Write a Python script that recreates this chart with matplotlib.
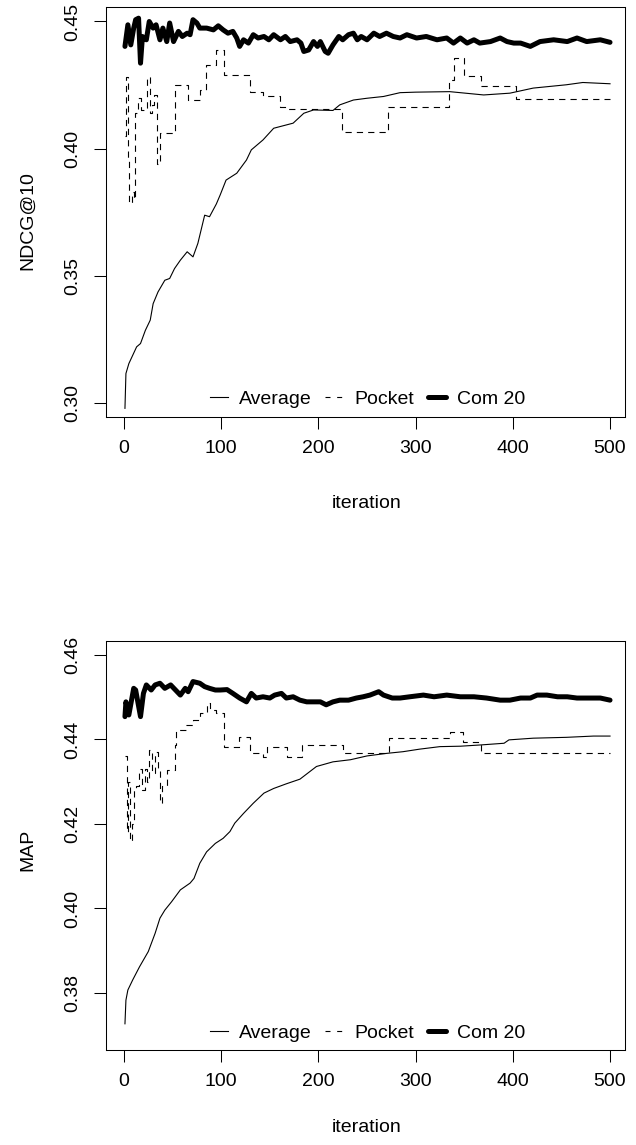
import matplotlib
matplotlib.use("Agg")
import matplotlib.pyplot as plt
from matplotlib.lines import Line2D

plt.rcParams['font.family'] = ['Liberation Sans', 'DejaVu Sans']

# ---------------- data ----------------
# Top panel: NDCG@10
ndcg_avg_it = [1, 2, 5, 13, 17, 22, 27, 30, 35, 42, 47, 52, 58, 65, 71, 76, 83, 88, 95, 99,
               105, 116, 126, 131, 143, 154, 167, 174, 185, 195, 215, 222, 236, 250, 267,
               284, 300, 335, 370, 397, 421, 455, 472, 500]
ndcg_avg = [0.2978, 0.3115, 0.3154, 0.3220, 0.3233, 0.3285, 0.3325, 0.3390, 0.3436, 0.3482,
            0.3489, 0.3528, 0.3561, 0.3594, 0.3574, 0.3627, 0.3738, 0.3732, 0.3782, 0.3818,
            0.3876, 0.3903, 0.3955, 0.3995, 0.4034, 0.4080, 0.4093, 0.4100, 0.4139, 0.4152,
            0.4150, 0.4172, 0.4191, 0.4198, 0.4205, 0.4220, 0.4222, 0.4224, 0.4211, 0.4218,
            0.4238, 0.4251, 0.4260, 0.4255]

ndcg_pocket_it = [1, 2, 4, 5, 8, 10, 11, 14, 18, 22, 24, 27, 29, 31, 34, 37, 52, 66, 78, 84,
                  95, 103, 130, 143, 160, 168, 224, 272, 334, 340, 350, 367, 403, 500]
ndcg_pocket = [0.405, 0.428, 0.395, 0.3785, 0.383, 0.380, 0.414, 0.420, 0.415, 0.416, 0.428,
               0.414, 0.417, 0.421, 0.394, 0.406, 0.4251, 0.4191, 0.4231, 0.4329, 0.4386,
               0.4290, 0.4224, 0.4207, 0.4165, 0.4155, 0.4067, 0.4165, 0.4270, 0.4356, 0.4286,
               0.4248, 0.4194, 0.4194]

ndcg_com_it = [1, 4, 7, 10, 12, 15, 17, 19, 23, 26, 30, 33, 37, 40, 44, 47, 51, 56, 60, 65,
               68, 71, 75, 78, 85, 92, 97, 102, 107, 112, 116, 119, 123, 128, 133, 138, 144,
               149, 154, 161, 166, 171, 178, 182, 185, 190, 195, 199, 202, 207, 210, 215, 221,
               225, 231, 236, 240, 244, 250, 257, 263, 270, 277, 284, 291, 301, 311, 322, 332,
               339, 346, 353, 360, 366, 377, 387, 394, 401, 408, 418, 428, 442, 456, 466, 476,
               490, 500]
ndcg_com = [0.4402, 0.4487, 0.4408, 0.4474, 0.4507, 0.4513, 0.4336, 0.4441, 0.4428, 0.4500,
            0.4474, 0.4487, 0.4428, 0.4474, 0.4421, 0.4494, 0.4421, 0.4461, 0.4441, 0.4454,
            0.4448, 0.4507, 0.4494, 0.4474, 0.4474, 0.4467, 0.4483, 0.4467, 0.4454, 0.4461,
            0.4435, 0.4402, 0.4428, 0.4415, 0.4448, 0.4435, 0.4441, 0.4428, 0.4448, 0.4428,
            0.4441, 0.4421, 0.4428, 0.4415, 0.4382, 0.4388, 0.4421, 0.4402, 0.4421, 0.4382,
            0.4375, 0.4408, 0.4441, 0.4428, 0.4448, 0.4454, 0.4428, 0.4441, 0.4428, 0.4454,
            0.4441, 0.4454, 0.4441, 0.4435, 0.4448, 0.4435, 0.4441, 0.4428, 0.4435, 0.4415,
            0.4435, 0.4415, 0.4428, 0.4415, 0.4421, 0.4435, 0.4421, 0.4415, 0.4415, 0.4402,
            0.4421, 0.4428, 0.4421, 0.4435, 0.4421, 0.4428, 0.4418]

# Bottom panel: MAP
map_avg_it = [1, 2, 4, 9, 16, 25, 32, 37, 42, 49, 58, 68, 72, 78, 85, 94, 102, 109, 114, 123,
              133, 144, 154, 167, 181, 198, 215, 233, 250, 270, 287, 304, 325, 346, 367, 391,
              396, 421, 455, 483, 500]
map_avg = [0.3727, 0.3783, 0.3807, 0.3831, 0.3862, 0.3898, 0.3941, 0.3977, 0.3996, 0.4016,
           0.4044, 0.4060, 0.4071, 0.4107, 0.4134, 0.4154, 0.4166, 0.4182, 0.4202, 0.4225,
           0.4249, 0.4273, 0.4284, 0.4295, 0.4306, 0.4336, 0.4347, 0.4352, 0.4361, 0.4367,
           0.4371, 0.4377, 0.4383, 0.4384, 0.4387, 0.4391, 0.4399, 0.4403, 0.4405, 0.4408,
           0.4408]

map_pocket_it = [1, 3, 4, 6, 8, 10, 12, 15, 19, 22, 24, 26, 29, 32, 35, 37, 39, 44, 52, 54,
                 64, 71, 78, 85, 88, 95, 103, 118, 130, 143, 147, 168, 183, 225, 273, 335,
                 349, 367, 500]
map_pocket = [0.436, 0.418, 0.430, 0.416, 0.420, 0.428, 0.429, 0.433, 0.428, 0.433, 0.430,
              0.4375, 0.432, 0.437, 0.433, 0.4249, 0.429, 0.4328, 0.4387, 0.4422, 0.4434,
              0.4446, 0.4463, 0.4487, 0.4470, 0.4462, 0.4383, 0.4405, 0.4369, 0.4359, 0.4382,
              0.4359, 0.4387, 0.4367, 0.4403, 0.4418, 0.4393, 0.4369, 0.4369]

map_com_it = [1, 2, 5, 10, 12, 17, 20, 23, 28, 32, 37, 42, 48, 53, 58, 63, 66, 71, 78, 83,
              88, 94, 99, 106, 112, 119, 126, 131, 136, 143, 150, 155, 162, 167, 174, 181,
              188, 195, 202, 208, 215, 222, 231, 239, 246, 253, 262, 267, 276, 284, 294, 308,
              319, 332, 346, 360, 373, 387, 397, 408, 418, 425, 435, 446, 456, 466, 476, 490,
              500]
map_com = [0.4454, 0.4489, 0.4458, 0.4521, 0.4517, 0.4454, 0.4509, 0.4529, 0.4517, 0.4529,
           0.4533, 0.4521, 0.4529, 0.4517, 0.4505, 0.4521, 0.4513, 0.4537, 0.4533, 0.4525,
           0.4521, 0.4517, 0.4517, 0.4518, 0.4509, 0.4498, 0.4489, 0.4509, 0.4498, 0.4501,
           0.4498, 0.4505, 0.4509, 0.4498, 0.4501, 0.4493, 0.4489, 0.4489, 0.4489, 0.4482,
           0.4489, 0.4493, 0.4493, 0.4498, 0.4501, 0.4505, 0.4513, 0.4505, 0.4498, 0.4498,
           0.4501, 0.4505, 0.4501, 0.4505, 0.4501, 0.4501, 0.4498, 0.4493, 0.4493, 0.4498,
           0.4498, 0.4505, 0.4505, 0.4501, 0.4501, 0.4498, 0.4498, 0.4498, 0.4493]

x_ticks = [0, 100, 200, 300, 400, 500]
ndcg_yticks = [0.30, 0.35, 0.40, 0.45]
map_yticks = [0.38, 0.40, 0.42, 0.44, 0.46]
legend_labels = ["Average", "Pocket", "Com 20"]

# ---------------- figure ----------------
W, H = 636, 1145
fig = plt.figure(figsize=(W / 100, H / 100), dpi=100)

FS = 14
THIN = 0.8
THICK = 3.6
DASH = (5.6, 4.6)


def add_ax(top_px, bottom_px):
    left_px, right_px = 106, 625
    return fig.add_axes([left_px / W, 1 - bottom_px / H,
                         (right_px - left_px) / W, (bottom_px - top_px) / H])


def style(ax, yticks, ylim):
    ax.set_xlim(-18.5, 515.4)
    ax.set_ylim(*ylim)
    ax.set_xticks(x_ticks)
    ax.set_xticklabels([str(t) for t in x_ticks])
    ax.set_yticks(yticks)
    ax.set_yticklabels([f"{t:.2f}" for t in yticks], rotation=90, va='center', ha='right')
    ax.tick_params(axis='both', direction='out', length=8.5, width=0.75,
                   labelsize=FS, colors='black')
    ax.tick_params(axis='x', pad=8)
    ax.tick_params(axis='y', pad=9)
    for s in ax.spines.values():
        s.set_linewidth(0.75)
        s.set_color('black')


def draw(ax, avg_it, avg, pk_it, pk, com_it, com, ycenter_frac):
    ax.plot(avg_it, avg, color='black', lw=THIN)
    ax.plot(pk_it, pk, color='black', lw=THIN, dashes=DASH, drawstyle='steps-post')
    ax.plot(com_it, com, color='black', lw=THICK, solid_capstyle='round',
            solid_joinstyle='round')
    handles = [Line2D([], [], color='black', lw=THIN),
               Line2D([], [], color='black', lw=THIN, dashes=(4.5, 6.0)),
               Line2D([], [], color='black', lw=THICK, solid_capstyle='round')]
    ax.legend(handles, legend_labels, ncol=3, loc='center',
              bbox_to_anchor=(0.504, ycenter_frac), frameon=False, fontsize=FS,
              handlelength=0.95, handletextpad=0.55, columnspacing=0.7,
              borderpad=0, borderaxespad=0)


# top panel
ax1 = add_ax(7, 417)
draw(ax1, ndcg_avg_it, ndcg_avg, ndcg_pocket_it, ndcg_pocket, ndcg_com_it, ndcg_com, 0.044)
style(ax1, ndcg_yticks, (0.2944, 0.4557))
fig.text(28 / W, 1 - 221 / H, "NDCG@10", rotation=90, ha='center', va='center', fontsize=FS)
fig.text(367 / W, 1 - 503 / H, "iteration", ha='center', va='center', fontsize=FS)

# bottom panel
ax2 = add_ax(641, 1050)
draw(ax2, map_avg_it, map_avg, map_pocket_it, map_pocket, map_com_it, map_com, 0.0416)
style(ax2, map_yticks, (0.3665, 0.4633))
fig.text(28 / W, 1 - 850 / H, "MAP", rotation=90, ha='center', va='center', fontsize=FS)
fig.text(367 / W, 1 - 1127 / H, "iteration", ha='center', va='center', fontsize=FS)

fig.savefig("out.png", dpi=100, facecolor='white')
